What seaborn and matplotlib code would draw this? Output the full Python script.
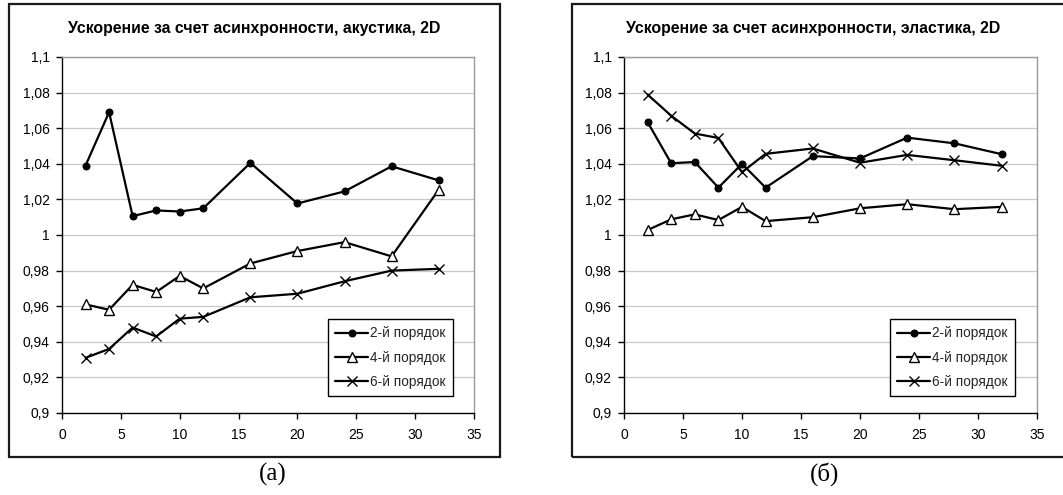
import matplotlib
matplotlib.use("Agg")
import matplotlib.pyplot as plt
from matplotlib.patches import Rectangle
from matplotlib.ticker import FuncFormatter, MultipleLocator
import seaborn as sns
import pandas as pd

procs = [2, 4, 6, 8, 10, 12, 16, 20, 24, 28, 32]

# (a) acoustics
ac_order2 = [1.039, 1.069, 1.0106, 1.0138, 1.0132, 1.015, 1.0405, 1.0177, 1.0245, 1.0386, 1.0307]
ac_order4 = [0.961, 0.958, 0.972, 0.968, 0.977, 0.970, 0.984, 0.991, 0.996, 0.988, 1.0254]
ac_order6 = [0.931, 0.936, 0.948, 0.943, 0.953, 0.954, 0.965, 0.967, 0.974, 0.980, 0.981]

# (б) elastics
el_order2 = [1.0634, 1.0403, 1.041, 1.0266, 1.040, 1.0266, 1.0443, 1.043, 1.0547, 1.0515, 1.0454]
el_order4 = [1.0028, 1.0088, 1.0116, 1.0084, 1.0158, 1.0078, 1.010, 1.015, 1.0173, 1.0145, 1.0158]
el_order6 = [1.0789, 1.067, 1.057, 1.0545, 1.0353, 1.0456, 1.0486, 1.0406, 1.045, 1.042, 1.0389]

labels = ["2-й порядок", "4-й порядок", "6-й порядок"]
titles = ["Ускорение за счет асинхронности, акустика, 2D",
          "Ускорение за счет асинхронности, эластика, 2D"]
captions = ["(a)", "(б)"]

sns.set_theme(style="white")
plt.rcParams["font.family"] = ["Liberation Sans", "DejaVu Sans"]

W, H = 1063, 495
fig = plt.figure(figsize=(W / 100, H / 100), dpi=100)

def fx(px):
    return px / W

def fy(py):
    return 1 - py / H

panels = [
    dict(ax=(62, 474), frame=(9, 500), title_x=254, cap_x=273,
         data=[ac_order2, ac_order4, ac_order6], leg=(328, 459)),
    dict(ax=(624, 1037), frame=(572, 1075), title_x=813, cap_x=825,
         data=[el_order2, el_order4, el_order6], leg=(890, 1021)),
]

styles = [
    dict(marker="o", markersize=5, markerfacecolor="black", markeredgecolor="black"),
    dict(marker="^", markersize=7, markerfacecolor="white", markeredgecolor="black", markeredgewidth=1.0),
    dict(marker="x", markersize=7, markeredgecolor="black", markeredgewidth=1.0),
]

ytop, ybot = 57, 413
for i, p in enumerate(panels):
    x0, x1 = p["ax"]
    ax = fig.add_axes([fx(x0), fy(ybot), fx(x1 - x0), (ybot - ytop) / H])
    for vals, lab, st in zip(p["data"], labels, styles):
        df = pd.DataFrame({"x": procs, "y": vals})
        sns.lineplot(data=df, x="x", y="y", ax=ax, color="black", linewidth=1.6,
                     label=lab, **st)
    ax.set_xlim(0, 35)
    ax.set_ylim(0.9, 1.1)
    ax.xaxis.set_major_locator(MultipleLocator(5))
    ax.yaxis.set_major_locator(MultipleLocator(0.02))
    ax.yaxis.set_major_formatter(FuncFormatter(lambda v, pos: f"{round(v, 3):g}".replace(".", ",")))
    ax.set_xlabel("")
    ax.set_ylabel("")
    ax.grid(axis="y", color="#c8c8c8", linewidth=0.9)
    ax.grid(axis="x", visible=False)
    for s in ["top", "right"]:
        ax.spines[s].set_color("#9a9a9a")
        ax.spines[s].set_linewidth(1.0)
    for s in ["left", "bottom"]:
        ax.spines[s].set_color("black")
        ax.spines[s].set_linewidth(1.0)
    ax.tick_params(axis="both", which="major", direction="out", length=4, width=1,
                   color="black", labelsize=10, labelcolor="black", pad=5, left=True, bottom=True)
    ax.tick_params(axis="x", pad=6.5)
    ax.set_facecolor("white")
    lx = (p["leg"][0] - x0) / (x1 - x0)
    ly = (ybot - 319) / (ybot - ytop)
    leg = ax.legend(loc="upper left", bbox_to_anchor=(lx, ly), fontsize=9.8,
                    frameon=True, fancybox=False, edgecolor="black", framealpha=1,
                    handlelength=2.4, handletextpad=0.15, labelspacing=0.75,
                    borderpad=0.55, borderaxespad=0)
    leg.get_frame().set_linewidth(1.0)

    # outer panel frame
    f0, f1 = p["frame"]
    fig.patches.append(Rectangle((fx(f0), fy(457)), fx(f1 - f0), (457 - 4) / H,
                                 transform=fig.transFigure, fill=False,
                                 edgecolor="#1a1a1a", linewidth=1.6))
    fig.text(fx(p["title_x"]), fy(28), titles[i], ha="center", va="center",
             fontsize=11.4, fontweight="bold", color="black")
    fig.text(fx(p["cap_x"]), fy(474), captions[i], ha="center", va="center",
             fontsize=18, family=["Liberation Serif", "DejaVu Serif"], color="black")

fig.savefig("out.png", dpi=100, facecolor="white")
